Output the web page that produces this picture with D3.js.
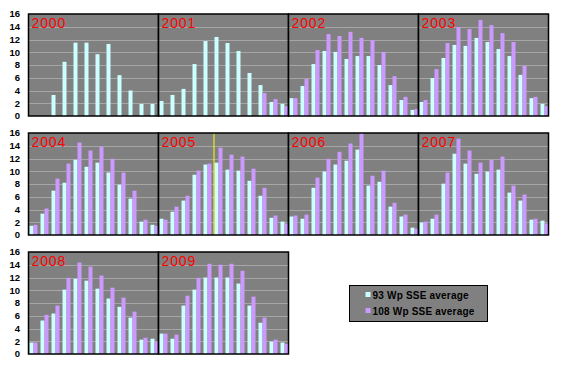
<!DOCTYPE html>
<html>
<head>
<meta charset="utf-8">
<script src="https://cdn.jsdelivr.net/npm/d3@7"></script>
<style>
  body { margin: 0; background: #fff; }
  svg { display: block; }
</style>
</head>
<body>
<div id="chart"></div>
<script>
// months and panel years
var months = ["Jan","Feb","Mar","Apr","May","Jun","Jul","Aug","Sep","Oct","Nov","Dec"];
var years = ["2000","2001","2002","2003","2004","2005","2006","2007","2008","2009"];
var yTicks = [0, 2, 4, 6, 8, 10, 12, 14, 16];
var seriesNames = ["93 Wp SSE average", "108 Wp SSE average"];

// 93 Wp SSE average, per year, Jan..Dec (null = no data)
var wp93 = [
  [null, null, 3.3, 8.5, 11.5, 11.5, 9.7, 11.3, 6.4, 4.0, 1.9, 1.9],
  [2.35, 3.3, 4.25, 8.15, 11.75, 12.4, 11.45, 10.2, 6.75, 4.85, 2.2, 1.9],
  [2.8, 4.7, 8.15, 10.2, 10.05, 8.95, 9.4, 9.4, 8.0, 4.85, 2.5, 0.95],
  [2.2, 5.95, 9.1, 11.15, 11.0, 12.25, 11.6, 10.5, 9.4, 6.45, 2.8, 1.9],
  [1.45, 3.35, 6.95, 8.2, 11.8, 10.7, 11.35, 9.8, 7.9, 5.7, 2.1, 1.6],
  [2.55, 3.65, 5.4, 9.45, 11.05, 11.35, 10.25, 10.1, 8.5, 6.15, 2.7, 2.1],
  [2.9, 2.55, 7.4, 9.95, 11.05, 11.65, 13.4, 7.75, 8.35, 4.45, 2.9, 1.15],
  [1.95, 2.55, 8.05, 12.75, 11.2, 9.6, 9.95, 10.25, 6.65, 5.4, 2.4, 2.25],
  [1.8, 5.25, 6.35, 10.1, 11.8, 11.5, 10.25, 8.7, 7.4, 5.7, 2.25, 2.4],
  [3.2, 2.4, 7.6, 10.1, 12.0, 12.0, 12.0, 11.05, 7.6, 4.9, 1.95, 1.8]
];

// 108 Wp SSE average
var wp108 = [
  [null, null, null, null, null, null, null, null, null, null, null, null],
  [null, null, null, null, null, null, null, null, null, 3.6, 2.65, 1.55],
  [2.8, 5.8, 10.35, 12.85, 12.55, 13.2, 12.25, 11.9, 10.05, 6.25, 3.0, 1.1],
  [2.5, 7.35, 11.45, 13.95, 13.65, 15.05, 14.25, 13.0, 11.6, 7.85, 3.0, 1.55],
  [1.6, 4.15, 8.85, 11.2, 14.5, 13.25, 13.85, 11.95, 9.8, 6.95, 2.4, 1.45],
  [2.4, 4.45, 6.15, 10.1, 11.2, 13.7, 12.6, 12.3, 10.4, 7.4, 3.05, 1.8],
  [3.05, 3.2, 9.0, 11.95, 13.05, 14.35, 16.0, 9.3, 10.1, 5.05, 3.2, 1.0],
  [2.1, 3.2, 9.8, 15.1, 13.25, 11.35, 11.8, 12.3, 7.75, 6.35, 2.55, 1.8],
  [1.8, 6.15, 7.6, 11.95, 14.35, 13.7, 12.3, 10.4, 8.85, 6.65, 2.55, 1.95],
  [3.2, 3.05, 9.15, 11.95, 14.15, 14.0, 14.15, 13.05, 9.0, 5.7, 2.25, 1.6]
];

var colors = ["#ccffff", "#cc99ff"];

var width = 561, height = 371;
var panelW = 130, panelH = 102;
var left = 28.5;
var rowTops = [14, 133, 252];

var svg = d3.select("#chart")
  .append("svg")
    .attr("width", width)
    .attr("height", height)
    .style("font-family", "Arial, 'Liberation Sans', sans-serif");

// scales shared by all panels
var x = d3.scaleBand()
    .domain(months)
    .range([1, panelW])
    .paddingInner(3 / 11)
    .paddingOuter(0);
var xs = d3.scaleBand()
    .domain([0, 1])
    .range([0, x.bandwidth()]);
var y = d3.scaleLinear()
    .domain([0, 16])
    .range([panelH, 0]);

years.forEach(function(yr, i) {
  var col = i % 4, row = Math.floor(i / 4);
  var g = svg.append("g")
    .attr("transform", "translate(" + (left + col * panelW) + "," + rowTops[row] + ")");

  // plot area
  g.append("rect")
    .attr("width", panelW).attr("height", panelH)
    .attr("fill", "#808080");

  // gridlines
  g.selectAll(".grid")
    .data(yTicks.filter(function(t) { return t > 0 && t < 16; }))
    .enter().append("line")
      .attr("x1", 0).attr("x2", panelW)
      .attr("y1", function(d) { return Math.round(y(d)) + 0.5; })
      .attr("y2", function(d) { return Math.round(y(d)) + 0.5; })
      .attr("stroke", "#a6a6a6")
      .attr("stroke-width", 1);

  // bars
  [wp93[i], wp108[i]].forEach(function(vals, s) {
    g.append("g").selectAll("rect")
      .data(vals.map(function(v, m) { return {m: months[m], v: v}; })
                .filter(function(d) { return d.v != null; }))
      .enter().append("rect")
        .attr("x", function(d) { return x(d.m) + xs(s); })
        .attr("width", xs.bandwidth())
        .attr("y", function(d) { return y(Math.min(d.v, 16)); })
        .attr("height", function(d) { return y(0) - y(Math.min(d.v, 16)); })
        .attr("fill", colors[s]);
  });

  // odd yellow marker in 2005
  if (yr === "2005") {
    g.append("line")
      .attr("x1", x("Jun") - 0.5).attr("x2", x("Jun") - 0.5)
      .attr("y1", 0).attr("y2", panelH)
      .attr("stroke", "#ffff00").attr("stroke-width", 1);
  }

  // frame
  g.append("rect")
    .attr("width", panelW).attr("height", panelH)
    .attr("fill", "none")
    .attr("stroke", "#000")
    .attr("stroke-width", 1.5);

  // year label
  g.append("text")
    .attr("x", 3).attr("y", 13.8)
    .text(yr)
    .attr("fill", "#ff0000")
    .style("font-size", "14px")
    .style("letter-spacing", "0.9px");

  // y axis labels only on first column
  if (col === 0) {
    g.selectAll(".tick")
      .data(yTicks)
      .enter().append("text")
        .attr("x", -8.5)
        .attr("y", function(d) { return y(d); })
        .attr("dy", "0.35em")
        .attr("text-anchor", "end")
        .style("font-size", "9.5px")
        .style("font-weight", "bold")
        .text(function(d) { return d; });
  }
});

// Handmade legend
var lg = svg.append("g").attr("transform", "translate(349.5,285.5)");
lg.append("rect").attr("width", 138).attr("height", 36)
  .attr("fill", "#808080").attr("stroke", "#000").attr("stroke-width", 1);
seriesNames.forEach(function(name, s) {
  lg.append("rect").attr("x", 16).attr("y", 6.5 + s * 16).attr("width", 5).attr("height", 5)
    .attr("fill", colors[s]);
  lg.append("text").attr("x", 23).attr("y", 13 + s * 16)
    .text(name)
    .style("font-size", "10px")
    .style("font-weight", "bold")
    .style("letter-spacing", "0.2px");
});
</script>
</body>
</html>
